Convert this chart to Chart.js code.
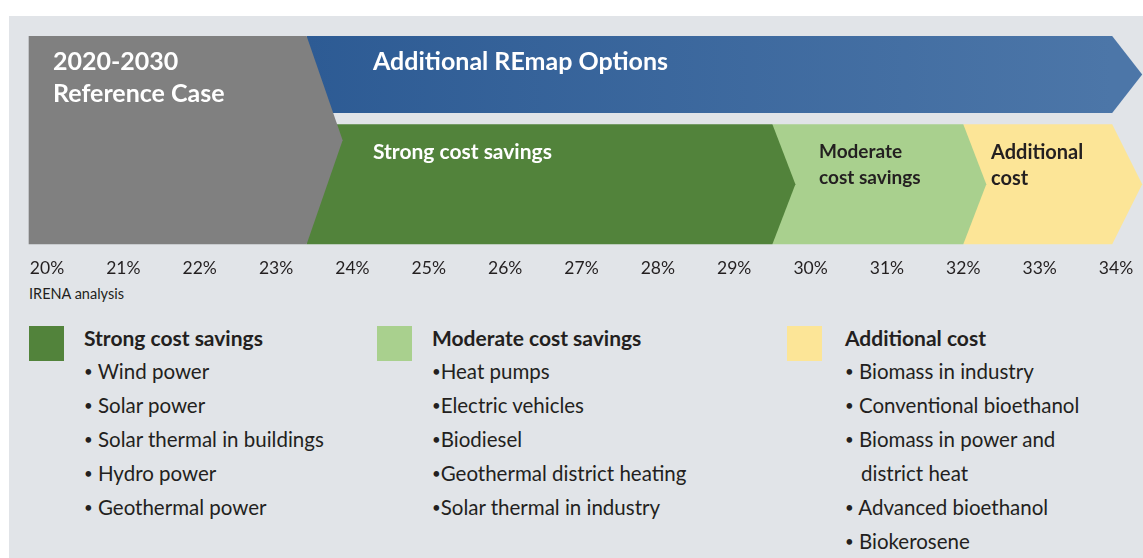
<!DOCTYPE html>
<html>
<head>
<meta charset="utf-8">
<script src="https://cdn.jsdelivr.net/npm/chart.js@4"></script>
<style>
  body { margin: 0; width: 1143px; height: 558px; overflow: hidden; position: relative; background: #fff;
         font-family: Lato, "Open Sans", sans-serif; color: #231f20; }
  #panel { position: absolute; left: 9px; top: 16px; right: 0; bottom: 0; background: #e1e4e8; }
  #wrap { position: absolute; left: 0; top: 0; width: 1143px; height: 284px; }
  .lbl { position: absolute; font-weight: 700; white-space: nowrap; line-height: 1; }
  .big { font-size: 25px; color: #fff; }
  .mid { font-size: 20px; }
  #source { position: absolute; left: 29px; top: 285px; font-size: 14.5px; color: #231f20; }
  .col { position: absolute; top: 326px; }
  .sq { position: absolute; left: 0; top: 0; width: 35px; height: 35px; }
  .head { position: absolute; top: 2px; font-size: 21px; font-weight: 700; white-space: nowrap; line-height: 20px; }
  .item { position: absolute; font-size: 20.5px; white-space: nowrap; line-height: 20px; }
  .dot { font-size: 15px; vertical-align: 2px; }
</style>
</head>
<body>
<div id="panel"></div>
<div id="wrap"><canvas id="myChart"></canvas></div>

<div class="lbl big" style="left:53px; top:48px;">2020-2030</div>
<div class="lbl big" style="left:53px; top:80px;">Reference Case</div>
<div class="lbl big" style="left:373px; top:48px;">Additional REmap Options</div>
<div class="lbl mid" style="left:373px; top:140px; color:#fff; font-size:21px;">Strong cost savings</div>
<div class="lbl mid" style="left:819px; top:141px; font-size:19px;">Moderate</div>
<div class="lbl mid" style="left:819px; top:167px; font-size:19px;">cost savings</div>
<div class="lbl mid" style="left:991px; top:141px;">Additional</div>
<div class="lbl mid" style="left:991px; top:167px;">cost</div>
<div id="source">IRENA analysis</div>
<div id="legend"></div>

<script>
// rows of the band chart
const categories = ['Additional REmap Options', 'Cost category'];
const tickValues = [20, 21, 22, 23, 24, 25, 26, 27, 28, 29, 30, 31, 32, 33, 34];

// share of renewables (%), [from, to]
const referenceCase   = [[19.76, 23.4], [19.76, 23.4]];
const remapOptions    = [[23.4, 33.95], null];
const strongSavings   = [null, [23.4, 29.5]];
const moderateSavings = [null, [29.5, 32.0]];
const additionalCost  = [null, [32.0, 33.95]];

const legendTitles = ['Strong cost savings', 'Moderate cost savings', 'Additional cost'];
const strongItems = ['• Wind power', '• Solar power', '• Solar thermal in buildings', '• Hydro power', '• Geothermal power'];
const moderateItems = ['•Heat pumps', '•Electric vehicles', '•Biodiesel', '•Geothermal district heating', '•Solar thermal in industry'];
const additionalItems = ['• Biomass in industry', '• Conventional bioethanol', '• Biomass in power and', '  district heat', '• Advanced bioethanol', '• Biokerosene'];

const colGray = '#808080';
const colGreen = '#52833b';
const colLight = '#a9d08e';
const colYellow = '#fce597';

// legend columns
const legendCols = [
  { x: 29, color: colGreen, items: strongItems, textX: 55, itemX: 55 },
  { x: 377, color: colLight, items: moderateItems, textX: 55, itemX: 55 },
  { x: 787, color: colYellow, items: additionalItems, textX: 58, itemX: 58 },
];
let legendHtml = '';
legendCols.forEach(function (c, i) {
  legendHtml += '<div class="col" style="left:' + c.x + 'px">';
  legendHtml += '<div class="sq" style="background:' + c.color + '"></div>';
  legendHtml += '<div class="head" style="left:' + c.textX + 'px">' + legendTitles[i] + '</div>';
  c.items.forEach(function (t, k) {
    let txt = t.replace(/^  /, '').replace(/^•/, '<span class="dot">•</span>');
    let pad = t.startsWith('  ') ? 16 : 0;
    legendHtml += '<div class="item" style="left:' + (c.itemX + pad) + 'px; top:' + (35 + k * 34) + 'px">' + txt + '</div>';
  });
  legendHtml += '</div>';
});
document.getElementById('legend').innerHTML = legendHtml;

// draw every bar as a chevron, right-most first so each tip overlaps its neighbour
const chevrons = {
  id: 'chevrons',
  beforeDatasetsDraw(chart) {
    const ctx = chart.ctx;
    let top = Infinity, bottom = -Infinity;
    chart.data.datasets.forEach(function (ds, i) {
      if (ds.spanAll) return;
      chart.getDatasetMeta(i).data.forEach(function (el, j) {
        if (ds.data[j] == null) return;
        top = Math.min(top, el.y - el.height / 2);
        bottom = Math.max(bottom, el.y + el.height / 2);
      });
    });
    for (let i = chart.data.datasets.length - 1; i >= 0; i--) {
      const ds = chart.data.datasets[i];
      let shapes = [];
      chart.getDatasetMeta(i).data.forEach(function (el, j) {
        if (ds.data[j] == null) return;
        shapes.push({ l: Math.min(el.base, el.x), r: Math.max(el.base, el.x), t: el.y - el.height / 2, b: el.y + el.height / 2 });
      });
      if (!shapes.length) continue;
      if (ds.spanAll) shapes = [{ l: shapes[0].l, r: shapes[0].r, t: top, b: bottom }];
      shapes.forEach(function (s) {
        const m = (s.t + s.b) / 2;
        ctx.save();
        ctx.beginPath();
        ctx.moveTo(s.l, s.t);
        ctx.lineTo(s.r, s.t);
        ctx.lineTo(s.r + ds.tip, m);
        ctx.lineTo(s.r, s.b);
        ctx.lineTo(s.l, s.b);
        ctx.closePath();
        if (ds.gradient) {
          const g = ctx.createLinearGradient(s.l, 0, s.r, 0);
          g.addColorStop(0, ds.gradient[0]);
          g.addColorStop(1, ds.gradient[1]);
          ctx.fillStyle = g;
        } else {
          ctx.fillStyle = ds.backgroundColor;
        }
        ctx.fill();
        ctx.restore();
      });
    }
    return false;
  }
};

var ctx = document.getElementById('myChart').getContext('2d');
var chart = new Chart(ctx, {
  type: 'bar',
  data: {
    labels: categories,
    datasets: [
      { label: '2020-2030 Reference Case', data: referenceCase, backgroundColor: colGray, spanAll: true, tip: 36, barThickness: 77, grouped: false },
      { label: 'Additional REmap Options', data: remapOptions, backgroundColor: '#3a67a0', gradient: ['#2d5b94', '#4c76a8'], tip: 30, barThickness: 77, grouped: false },
      { label: 'Strong cost savings', data: strongSavings, backgroundColor: colGreen, tip: 23, barThickness: 120, grouped: false },
      { label: 'Moderate cost savings', data: moderateSavings, backgroundColor: colLight, tip: 23, barThickness: 120, grouped: false },
      { label: 'Additional cost', data: additionalCost, backgroundColor: colYellow, tip: 30, barThickness: 120, grouped: false },
    ]
  },
  options: {
    indexAxis: 'y',
    responsive: true,
    maintainAspectRatio: false,
    animation: false,
    layout: { padding: { left: 47, right: 27, top: 19.75, bottom: 2 } },
    plugins: { legend: { display: false }, tooltip: { enabled: false } },
    scales: {
      x: {
        type: 'linear',
        min: 20,
        max: 34,
        grid: { display: false, drawTicks: true, tickLength: 16 },
        border: { display: false },
        afterBuildTicks: function (s) { s.ticks = tickValues.map(function (v) { return { value: v }; }); },
        ticks: {
          padding: 3,
          color: '#231f20',
          font: { family: 'Lato', size: 17.5 },
          callback: function (v) { return v + '%'; }
        }
      },
      y: { type: 'category', display: false, offset: true }
    }
  },
  plugins: [chevrons]
});
</script>
</body>
</html>
